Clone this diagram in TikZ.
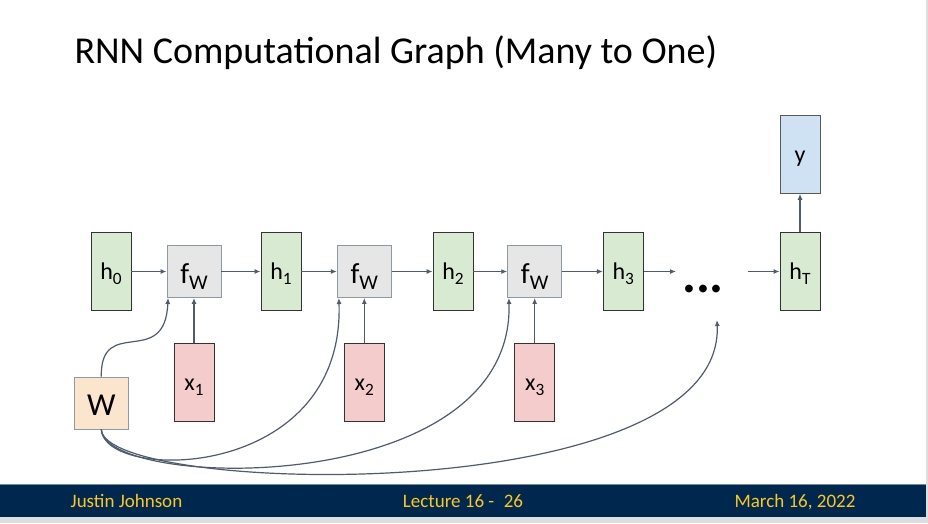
\documentclass[tikz,border=0pt]{standalone}
\usepackage{fontspec}
\setmainfont{Carlito}
\usetikzlibrary{arrows.meta}
\definecolor{vert}{HTML}{D9EAD3}
\definecolor{gris}{HTML}{E6E6E6}
\definecolor{rose}{HTML}{F4CCCC}
\definecolor{bleu}{HTML}{CFE2F3}
\definecolor{peche}{HTML}{FCE5CD}
\definecolor{bord}{HTML}{8E99A6}
\definecolor{fleche}{HTML}{4F5B6E}
\definecolor{marine}{HTML}{00284F}
\definecolor{or}{HTML}{FFC61E}
\newcommand{\ind}[1]{\raisebox{-.22em}{\scalebox{.72}{#1}}}

\begin{document}
\begin{tikzpicture}[x=1pt,y=1pt,
  etat/.style={draw=black!80, line width=0.9pt, fill=vert, minimum width=40pt, minimum height=78pt, inner sep=0pt,
    font=\fontsize{24}{24}\selectfont, text height=20pt, text depth=4pt},%boites h
  entree/.style={etat, fill=rose},%boites x
  sortie/.style={etat, fill=bleu, draw=black!65},
  fonction/.style={draw=bord, line width=0.9pt, fill=gris, minimum width=54pt, minimum height=52pt, inner sep=0pt,
    font=\fontsize{29}{29}\selectfont, text height=27pt, text depth=4pt},%boites f_W
  poids/.style={fonction, fill=peche, font=\fontsize{32}{32}\selectfont, text height=28pt, text depth=4pt},
  fl/.style={draw=fleche, line width=1.2pt, -{Latex[length=6pt,width=5pt]}}]
\useasboundingbox (0,0) rectangle (928,-523);
% fond de la diapositive
\fill[black!13] (0,0) rectangle (928,-523);
\fill[white] (0,0) rectangle (926,-517);
\fill[marine] (0,-484) rectangle (926,-517);
\draw[marine!55!white, line width=0.8pt] (0,-484) -- (926,-484);

\node (titre) at (71,-63) [anchor=base west, font=\fontsize{38}{38}\selectfont] {RNN Computational Graph (Many to One)};

% ligne des etats
\node (h0) at (111,-271.5) [etat] {h\ind{0}};
\node (f1) at (194,-271.5) [fonction] {f\ind{W}};
\node (h1) at (281,-271.5) [etat] {h\ind{1}};
\node (f2) at (364.3,-271.5) [fonction] {f\ind{W}};
\node (h2) at (453,-271.5) [etat] {h\ind{2}};
\node (f3) at (534.7,-271.5) [fonction] {f\ind{W}};
\node (h3) at (623.3,-271.5) [etat] {h\ind{3}};
\node (hT) at (800,-271.5) [etat] {h\ind{T}};
\node (y) at (800,-154.3) [sortie] {y};

% entrees et poids
\node (x1) at (194,-382.7) [entree] {x\ind{1}};
\node (x2) at (364.3,-382.7) [entree] {x\ind{2}};
\node (x3) at (534.7,-382.7) [entree] {x\ind{3}};
\node (W) at (101.3,-403) [poids] {W};

\node (dots) at (703,-289) [font=\fontsize{52}{52}\selectfont\bfseries, inner sep=0pt] {...};
\coordinate (fin) at (676,-271.5);
\coordinate (debut) at (748,-271.5);
\coordinate (cible) at (717,-320);

\draw[fl] (h0) -- (f1);
\draw[fl] (f1) -- (h1);
\draw[fl] (h1) -- (f2);
\draw[fl] (f2) -- (h2);
\draw[fl] (h2) -- (f3);
\draw[fl] (f3) -- (h3);
\draw[fl] (h3) -- (fin);
\draw[fl] (debut) -- (hT);
\draw[fl] (hT) -- (y);
\draw[fl] (x1) -- (f1);
\draw[fl] (x2) -- (f2);
\draw[fl] (x3) -- (f3);

% partage des poids W
\draw[fl] (W.north) .. controls +(-1,62) and +(-3,-72) .. ([xshift=1.5pt]f1.south west);
\draw[fl] (W.south) .. controls +(3,-53) and +(6,-184) .. ([xshift=2pt]f2.south west);
\draw[fl] (W.south) .. controls +(3,-61) and +(6,-202) .. ([xshift=1.6pt]f3.south west);
\draw[fl] (W.south) .. controls +(3,-66) and +(8,-190) .. (cible);

% pied de page
\node (auteur) at (126.5,-507) [anchor=base, text=or, font=\fontsize{19}{19}\selectfont] {Justin Johnson};
\node (cours) at (463,-507) [anchor=base, text=or, font=\fontsize{19}{19}\selectfont] {Lecture 16 -\enspace26};
\node (date) at (795,-507) [anchor=base, text=or, font=\fontsize{19}{19}\selectfont] {March 16, 2022};
\end{tikzpicture}
\end{document}
